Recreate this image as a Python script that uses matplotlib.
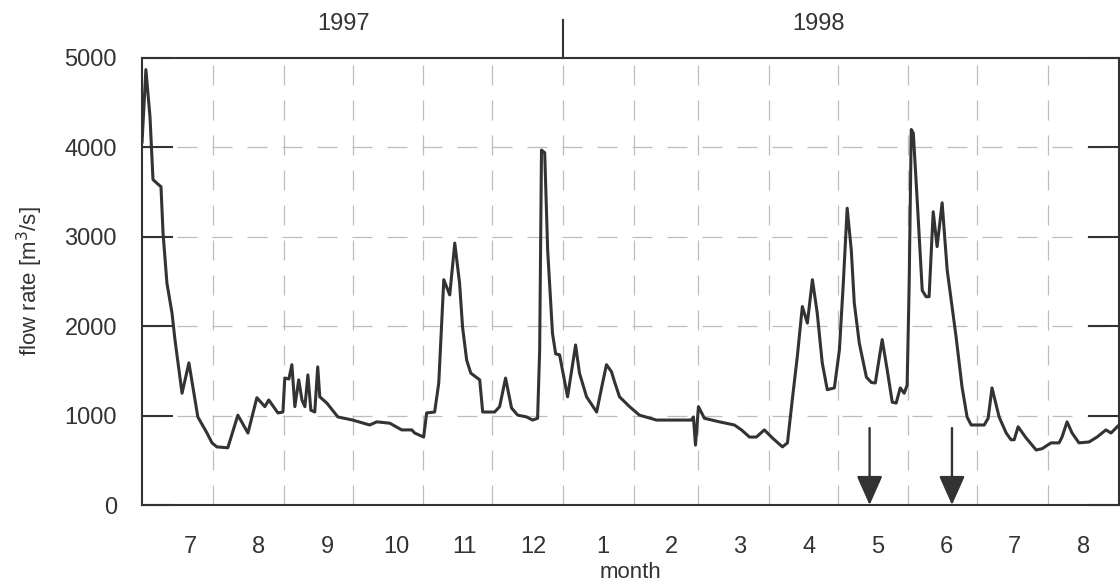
import numpy as np
import matplotlib
matplotlib.use("Agg")
import matplotlib.pyplot as plt

# daily discharge record, days counted from 1 July 1997
days = [
    0, 1.7, 3.5, 4.8, 6.5, 8.3, 9.2, 10.9, 13.1, 14.4,
    17.5, 20.5, 24.4, 28.4, 30.6, 32.7, 37.5, 41.9, 46.3, 50.2,
    53.7, 55.4, 59.4, 61.6, 62.4, 64.2, 65.5, 66.8, 68.5, 69.9,
    71.2, 72.5, 73.8, 75.5, 76.8, 77.7, 80.8, 85.6, 92.1, 99.5,
    102.6, 108.3, 113.5, 117.9, 119.2, 123.1, 124.4, 127.9, 129.7, 131.9,
    134.5, 136.7, 138.8, 140.1, 141.9, 143.7, 147.6, 148.9, 154.1, 156.3,
    158.9, 161.5, 164.2, 168.1, 170.7, 172.9, 173.8, 174.6, 176.0, 177.3,
    179.4, 180.8, 182.5, 186.0, 189.5, 191.2, 194.3, 198.7, 201.3, 203.0,
    205.2, 206.5, 208.7, 213.1, 217.4, 224.9, 240.1, 241.0, 241.9, 243.2,
    245.8, 252.4, 258.9, 262.0, 265.5, 268.5, 272.0, 275.5, 279.9, 282.1,
    284.2, 286.4, 288.6, 290.8, 293.0, 295.1, 297.3, 299.5, 302.6, 304.8,
    306.5, 308.2, 310.0, 311.3, 313.5, 316.6, 318.8, 320.5, 323.5, 325.7,
    327.9, 329.6, 331.4, 333.1, 334.4, 335.3, 336.2, 337.1, 338.8, 341.0,
    342.7, 344.0, 345.8, 347.5, 349.7, 351.9, 355.8, 358.4, 360.6, 362.4,
    368.1, 369.8, 371.5, 374.6, 377.7, 379.8, 381.2, 382.9, 386.4, 390.8,
    393.4, 397.3, 400.8, 402.1, 404.3, 406.5, 409.5, 413.9, 417.4, 421.3,
    423.5, 427,
]
flow = [
    4050, 4870, 4340, 3640, 3600, 3560, 3040, 2480, 2150, 1850,
    1250, 1590, 985, 805, 695, 650, 640, 1005, 805, 1200,
    1100, 1175, 1030, 1040, 1420, 1410, 1570, 1100, 1400, 1175,
    1100, 1455, 1060, 1040, 1545, 1210, 1140, 985, 950, 895,
    930, 915, 840, 840, 805, 760, 1030, 1040, 1365, 2520,
    2350, 2930, 2480, 1990, 1620, 1475, 1400, 1040, 1040, 1100,
    1420, 1085, 1005, 985, 950, 970, 1735, 3970, 3940, 2850,
    1920, 1690, 1680, 1210, 1790, 1475, 1210, 1040, 1365, 1570,
    1490, 1380, 1210, 1100, 1005, 950, 950, 985, 670, 1100,
    970, 930, 895, 840, 760, 760, 840, 750, 650, 695,
    1175, 1660, 2220, 2035, 2520, 2150, 1590, 1290, 1310, 1735,
    2480, 3320, 2850, 2260, 1810, 1430, 1370, 1365, 1850, 1510,
    1150, 1140, 1310, 1250, 1340, 2480, 4200, 4160, 3410, 2400,
    2330, 2330, 3280, 2890, 3380, 2630, 1880, 1320, 985, 895,
    895, 970, 1310, 985, 805, 730, 730, 875, 750, 615,
    630, 695, 695, 760, 930, 805, 695, 705, 760, 840,
    805, 895,
]
assert len(days) == len(flow)

# month lengths from July 1997 to August 1998
month_len = [31, 31, 30, 31, 30, 31, 31, 28, 31, 30, 31, 30, 31, 31]
month_names = ["7", "8", "9", "10", "11", "12", "1", "2", "3", "4", "5", "6", "7", "8"]
years = ["1997", "1998"]
arrow_days = [318, 354]
arrow_top = 860

ink = "#333333"
grid_c = "#bdbdbd"
plt.rcParams["font.family"] = ["Liberation Sans", "DejaVu Sans"]

bounds = np.concatenate([[0], np.cumsum(month_len)])

fig = plt.figure(figsize=(11.2, 5.87), dpi=100)
ax = fig.add_axes([142 / 1120, 82 / 587, 977 / 1120, 447 / 587])

ax.plot(days, flow, color=ink, lw=2.2, zorder=3,
        solid_joinstyle="round", solid_capstyle="round")

ax.set_xlim(0, bounds[-1])
ax.set_ylim(0, 5000)

# dashed grid at month boundaries and every 1000 m3/s
for b in bounds[1:-1]:
    ax.axvline(b, color=grid_c, lw=0.9, ls=(0, (16, 12)), zorder=1)
for v in range(1000, 5000, 1000):
    ax.axhline(v, color=grid_c, lw=0.9, ls=(0, (16, 12)), zorder=1)

ax.set_yticks(range(0, 5001, 1000))
ax.tick_params(axis="y", direction="in", length=22, width=1.5, color=ink,
               labelsize=17, labelcolor=ink, pad=18, right=True)

label_pos = np.linspace(21, 411.5, len(month_names))
ax.set_xticks(label_pos)
ax.set_xticklabels(month_names)
ax.tick_params(axis="x", length=0, labelsize=17, labelcolor=ink, pad=22)

for s in ax.spines.values():
    s.set_color(ink)
    s.set_linewidth(1.5)

ax.set_ylabel("flow rate [m$^3$/s]", fontsize=16, color=ink, labelpad=14)
ax.set_xlabel("month", fontsize=16, color=ink, labelpad=3)

# year divider above the top spine and year names
jan1 = bounds[6]
ax.plot([jan1, jan1], [1.0, 1.085], transform=ax.get_xaxis_transform(),
        color=ink, lw=1.5, clip_on=False)
ax.text(bounds[3] - 4, 1.077, years[0], transform=ax.get_xaxis_transform(),
        ha="center", va="center", fontsize=17, color=ink)
ax.text((jan1 + bounds[-1]) / 2 - 10, 1.077, years[1], transform=ax.get_xaxis_transform(),
        ha="center", va="center", fontsize=17, color=ink)

# sampling dates marked with arrows
for d in arrow_days:
    ax.annotate("", xy=(d, 0), xytext=(d, arrow_top),
                arrowprops=dict(arrowstyle="-|>,head_length=0.9,head_width=0.4",
                                mutation_scale=20, color=ink, lw=1.7,
                                shrinkA=0, shrinkB=0), zorder=4)

fig.savefig("out.png", dpi=100, facecolor="white")
